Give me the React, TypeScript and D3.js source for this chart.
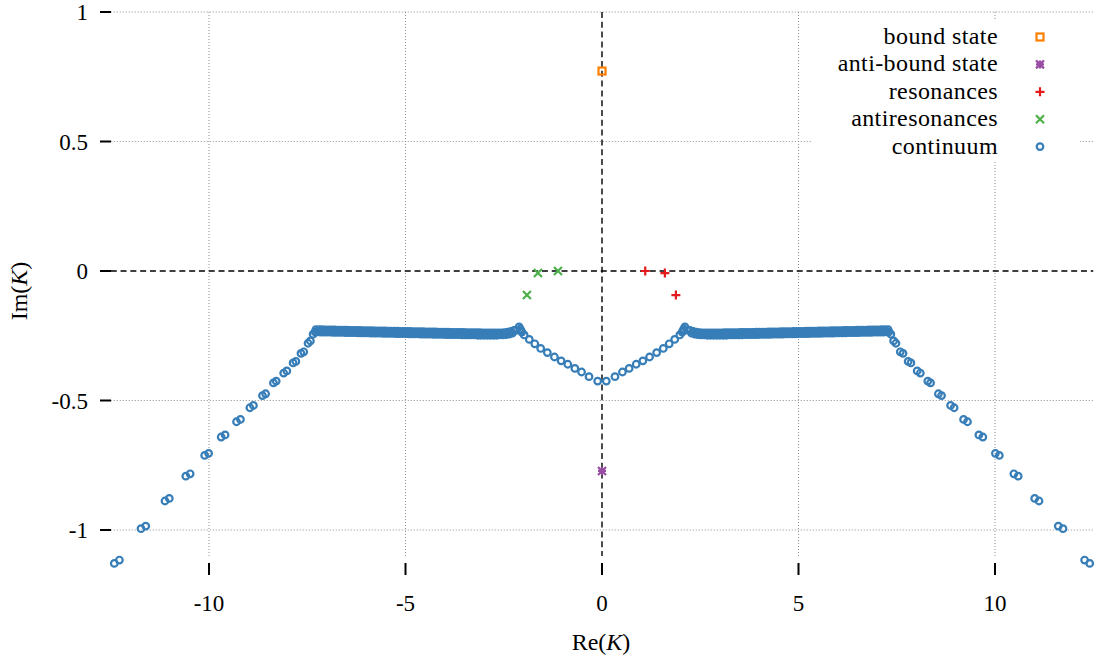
import React, { useEffect, useRef } from 'react';
import * as d3 from 'd3';

// continuum, left branch; the right branch is its mirror K -> -K*
const tailX = [-12.41, -12.28, -11.73, -11.61, -11.12, -11.01, -10.59, -10.48, -10.11, -10.01,
  -9.69, -9.59, -9.30, -9.20, -8.96, -8.87, -8.64, -8.56, -8.36, -8.29,
  -8.10, -8.02, -7.86, -7.79, -7.66, -7.59, -7.48, -7.42, -7.35, -7.30];
const tailY = [-1.129, -1.116, -0.995, -0.985, -0.888, -0.878, -0.792, -0.783, -0.712, -0.704,
  -0.641, -0.633, -0.582, -0.573, -0.528, -0.519, -0.481, -0.474, -0.432, -0.425,
  -0.394, -0.386, -0.355, -0.349, -0.318, -0.312, -0.279, -0.270, -0.244, -0.235];

// plateau, upper row
const plateauAX = [-7.28, -7.20, -7.12, -7.04, -6.96, -6.88, -6.80, -6.72, -6.64, -6.56,
  -6.48, -6.40, -6.32, -6.24, -6.16, -6.08, -6.00, -5.92, -5.84, -5.76,
  -5.68, -5.60, -5.52, -5.44, -5.36, -5.28, -5.20, -5.12, -5.04, -4.96,
  -4.88, -4.80, -4.72, -4.64, -4.56, -4.48, -4.40, -4.32, -4.24, -4.16,
  -4.08, -4.00, -3.92, -3.84, -3.76, -3.68, -3.60, -3.52, -3.44, -3.36,
  -3.28, -3.20, -3.12, -3.04, -2.96, -2.88, -2.80, -2.72, -2.64, -2.56,
  -2.48, -2.40, -2.32, -2.24];
const plateauAY = [-0.226, -0.226, -0.226, -0.227, -0.227, -0.227, -0.227, -0.228, -0.228, -0.228,
  -0.228, -0.229, -0.229, -0.229, -0.229, -0.230, -0.230, -0.230, -0.230, -0.231,
  -0.231, -0.231, -0.231, -0.232, -0.232, -0.232, -0.232, -0.233, -0.233, -0.233,
  -0.233, -0.234, -0.234, -0.234, -0.234, -0.235, -0.235, -0.235, -0.235, -0.236,
  -0.236, -0.236, -0.236, -0.237, -0.237, -0.237, -0.237, -0.237, -0.238, -0.238,
  -0.238, -0.238, -0.238, -0.239, -0.239, -0.239, -0.239, -0.239, -0.239, -0.239,
  -0.238, -0.236, -0.233, -0.229];

// plateau, lower row
const plateauBX = [-7.24, -7.16, -7.08, -7.00, -6.92, -6.84, -6.76, -6.68, -6.60, -6.52,
  -6.44, -6.36, -6.28, -6.20, -6.12, -6.04, -5.96, -5.88, -5.80, -5.72,
  -5.64, -5.56, -5.48, -5.40, -5.32, -5.24, -5.16, -5.08, -5.00, -4.92,
  -4.84, -4.76, -4.68, -4.60, -4.52, -4.44, -4.36, -4.28, -4.20, -4.12,
  -4.04, -3.96, -3.88, -3.80, -3.72, -3.64, -3.56, -3.48, -3.40, -3.32,
  -3.24, -3.16, -3.08, -3.00, -2.92, -2.84, -2.76, -2.68, -2.60, -2.52,
  -2.44, -2.36, -2.28];
const plateauBY = [-0.235, -0.236, -0.236, -0.236, -0.236, -0.237, -0.237, -0.237, -0.237, -0.238,
  -0.238, -0.238, -0.238, -0.239, -0.239, -0.239, -0.239, -0.240, -0.240, -0.240,
  -0.240, -0.241, -0.241, -0.241, -0.241, -0.242, -0.242, -0.242, -0.242, -0.243,
  -0.243, -0.243, -0.243, -0.244, -0.244, -0.244, -0.244, -0.245, -0.245, -0.245,
  -0.245, -0.246, -0.246, -0.246, -0.246, -0.246, -0.247, -0.247, -0.247, -0.247,
  -0.247, -0.248, -0.248, -0.248, -0.248, -0.248, -0.248, -0.248, -0.247, -0.247,
  -0.246, -0.244, -0.240];

const dipX = [-2.18, -2.11, -2.08, -2.06, -2.04, -1.98, -1.85, -1.71, -1.56, -1.39,
  -1.21, -1.04, -0.87, -0.69, -0.52, -0.33, -0.11];
const dipY = [-0.228, -0.216, -0.224, -0.230, -0.236, -0.247, -0.264, -0.281, -0.299, -0.315,
  -0.332, -0.347, -0.360, -0.376, -0.390, -0.408, -0.425];

const boundState = [{ x: 0, y: 0.772 }];
const antiBoundState = [{ x: 0, y: -0.772 }];
const resonanceX = [1.10, 1.60, 1.88];
const resonanceY = [0.0, -0.008, -0.093];
const antiresonanceX = [-1.12, -1.63, -1.91];
const antiresonanceY = [0.0, -0.008, -0.093];

const xTicks = [-10, -5, 0, 5, 10];
const yTicks = [-1, -0.5, 0, 0.5, 1];
const legendLabels = ['bound state', 'anti-bound state', 'resonances', 'antiresonances', 'continuum'];
const legendKinds = ['bound', 'anti', 'res', 'antires', 'cont'];
const colors = { bound: '#ff7f00', anti: '#984ea3', res: '#e41a1c', antires: '#4daf4a', cont: '#377eb8' };

const W = 1099, H = 664;
const FONT = 'Liberation Serif';
const LABEL_FONT = 'serif';

const x = d3.scaleLinear().domain([-12.5, 12.5]).range([110.75, 1093.25]);
const y = d3.scaleLinear().domain([-1.1, 1]).range([555.9, 12]);

export default function App() {
  const ref = useRef<SVGGElement>(null);

  useEffect(() => {
    const g = d3.select(ref.current);
    g.selectAll('*').remove();

    const [x0, x1] = x.range();
    const [yb, yt] = y.range();

    const leftBranch = [
      ...tailX.map((v, i) => ({ x: v, y: tailY[i] })),
      ...plateauBX.map((v, i) => ({ x: v, y: plateauBY[i] })),
      ...plateauAX.map((v, i) => ({ x: v, y: plateauAY[i] })),
      ...dipX.map((v, i) => ({ x: v, y: dipY[i] })),
    ];
    const continuum = [...leftBranch, ...leftBranch.map(d => ({ x: -d.x, y: d.y }))];

    // grid
    const grid = g.append('g').attr('stroke', '#8f8f8f').attr('stroke-width', 1).attr('stroke-dasharray', '1,2');
    grid.selectAll('line.h').data(yTicks.filter(t => t !== 0)).enter().append('line')
      .attr('x1', x0).attr('x2', x1).attr('y1', d => y(d)).attr('y2', d => y(d));
    grid.selectAll('line.v').data(xTicks.filter(t => t !== 0)).enter().append('line')
      .attr('y1', yt).attr('y2', yb).attr('x1', d => x(d)).attr('x2', d => x(d));

    // zero axes
    const zero = g.append('g').attr('stroke', '#000').attr('stroke-width', 1.4).attr('stroke-dasharray', '6,3.8');
    zero.append('line').attr('x1', x0).attr('x2', x1).attr('y1', y(0)).attr('y2', y(0));
    zero.append('line').attr('x1', x(0)).attr('x2', x(0)).attr('y1', yt).attr('y2', yb);

    // legend background (covers grid)
    g.append('rect').attr('x', 812).attr('y', 20).attr('width', 268).attr('height', 142).attr('fill', '#fff');

    const drawSymbol = (p: any, kind: string, cx: number, cy: number) => {
      if (kind === 'bound') {
        p.append('rect').attr('x', cx - 3.5).attr('y', cy - 3.5).attr('width', 7).attr('height', 7)
          .attr('fill', 'none').attr('stroke', colors.bound).attr('stroke-width', 2.2);
      } else if (kind === 'anti') {
        const s = 4;
        p.append('path')
          .attr('d', `M${cx - s},${cy}H${cx + s}M${cx},${cy - s}V${cy + s}M${cx - s},${cy - s}L${cx + s},${cy + s}M${cx - s},${cy + s}L${cx + s},${cy - s}`)
          .attr('stroke', colors.anti).attr('stroke-width', 2.2).attr('fill', 'none');
      } else if (kind === 'res') {
        const s = 4.5;
        p.append('path').attr('d', `M${cx - s},${cy}H${cx + s}M${cx},${cy - s}V${cy + s}`)
          .attr('stroke', colors.res).attr('stroke-width', 2.2).attr('fill', 'none');
      } else if (kind === 'antires') {
        const s = 4;
        p.append('path').attr('d', `M${cx - s},${cy - s}L${cx + s},${cy + s}M${cx - s},${cy + s}L${cx + s},${cy - s}`)
          .attr('stroke', colors.antires).attr('stroke-width', 2.2).attr('fill', 'none');
      } else {
        p.append('circle').attr('cx', cx).attr('cy', cy).attr('r', 3.3)
          .attr('fill', 'none').attr('stroke', colors.cont).attr('stroke-width', 2.2);
      }
    };

    // continuum
    g.append('g').selectAll('circle').data(continuum).enter().append('circle')
      .attr('cx', d => x(d.x)).attr('cy', d => y(d.y)).attr('r', 3.3)
      .attr('fill', 'none').attr('stroke', colors.cont).attr('stroke-width', 2.2);

    const marks = g.append('g');
    resonanceX.forEach((v, i) => drawSymbol(marks, 'res', x(v), y(resonanceY[i])));
    antiresonanceX.forEach((v, i) => drawSymbol(marks, 'antires', x(v), y(antiresonanceY[i])));
    boundState.forEach(d => drawSymbol(marks, 'bound', x(d.x), y(d.y)));
    antiBoundState.forEach(d => drawSymbol(marks, 'anti', x(d.x), y(d.y)));

    // ticks
    const ticks = g.append('g').attr('stroke', '#000').attr('stroke-width', 2);
    ticks.selectAll('line.y').data(yTicks).enter().append('line')
      .attr('x1', 100).attr('x2', 111).attr('y1', d => y(d)).attr('y2', d => y(d));
    ticks.selectAll('line.x').data(xTicks).enter().append('line')
      .attr('y1', 563).attr('y2', 575).attr('x1', d => x(d)).attr('x2', d => x(d));

    // legend symbols
    const legend = g.append('g');
    legendKinds.forEach((k, i) => drawSymbol(legend, k, 1040, 37 + i * 27.4));
  }, []);

  return (
    <svg width={W} height={H} style={{ position: 'absolute', left: 0, top: 0, background: '#fff' }}>
      <g ref={ref} />
      {yTicks.map(d => (
        <text key={'y' + d} x={88} y={y(d) + 8} textAnchor="end" fontFamily={LABEL_FONT} fontSize={23}>{String(d)}</text>
      ))}
      {xTicks.map(d => (
        <text key={'x' + d} x={x(d)} y={611} textAnchor="middle" fontFamily={LABEL_FONT} fontSize={23}>{String(d)}</text>
      ))}
      <text x={601} y={650} textAnchor="middle" fontFamily={FONT} fontSize={24}>Re(<tspan fontStyle="italic">K</tspan>)</text>
      <text transform="translate(27,291) rotate(-90)" textAnchor="middle" fontFamily={FONT} fontSize={24}>Im(<tspan fontStyle="italic">K</tspan>)</text>
      {legendLabels.map((s, i) => (
        <text key={s} x={998} y={37 + i * 27.4 + 7} textAnchor="end" fontFamily={LABEL_FONT} fontSize={24} letterSpacing={0.4}>{s}</text>
      ))}
    </svg>
  );
}
